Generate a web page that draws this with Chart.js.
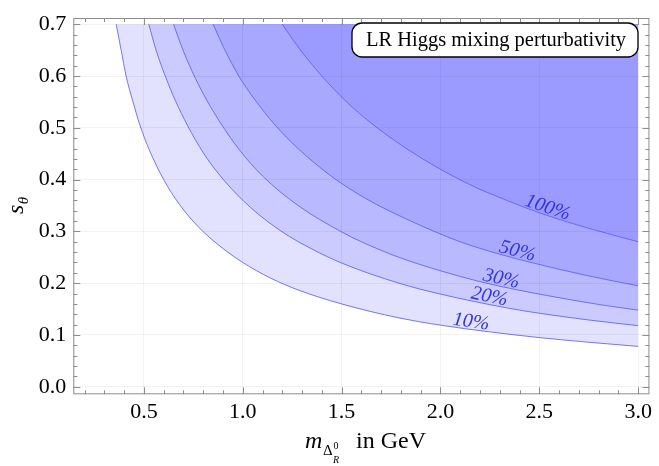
<!DOCTYPE html>
<html>
<head>
<meta charset="utf-8">
<script src="https://cdn.jsdelivr.net/npm/chart.js@4"></script>
<style>
  html, body { margin: 0; padding: 0; background: #fff; }
  #wrap { width: 659px; height: 466px; }
</style>
</head>
<body>
<div id="wrap"><canvas id="chart" width="659" height="466"></canvas></div>
<script>
// contour levels and the curves (m in GeV, s_theta)
const levels = ['10%', '20%', '30%', '50%', '100%'];

const m10 = [0.36, 0.385, 0.41, 0.445, 0.48, 0.53, 0.60, 0.68, 0.78, 0.88, 1.00, 1.14, 1.28, 1.50, 1.79, 2.00, 2.25, 2.50, 2.75, 3.00];
const s10 = [0.700, 0.650, 0.600, 0.550, 0.505, 0.455, 0.400, 0.352, 0.307, 0.273, 0.240, 0.210, 0.187, 0.160, 0.133, 0.119, 0.106, 0.095, 0.086, 0.078];

const m20 = [0.525, 0.56, 0.61, 0.66, 0.72, 0.80, 0.90, 1.04, 1.20, 1.35, 1.50, 1.79, 2.00, 2.34, 2.50, 2.75, 3.00];
const s20 = [0.700, 0.652, 0.598, 0.552, 0.505, 0.452, 0.401, 0.346, 0.299, 0.266, 0.239, 0.200, 0.179, 0.152, 0.142, 0.129, 0.118];

const m30 = [0.65, 0.70, 0.76, 0.82, 0.89, 0.98, 1.10, 1.28, 1.50, 1.60, 1.79, 2.00, 2.20, 2.39, 2.60, 2.80, 3.00];
const s30 = [0.700, 0.648, 0.596, 0.552, 0.508, 0.459, 0.407, 0.350, 0.299, 0.280, 0.250, 0.224, 0.203, 0.187, 0.172, 0.159, 0.148];

const m50 = [0.85, 0.91, 0.98, 1.06, 1.16, 1.28, 1.45, 1.62, 1.85, 2.10, 2.30, 2.48, 2.75, 3.00];
const s50 = [0.700, 0.650, 0.600, 0.555, 0.507, 0.460, 0.406, 0.364, 0.320, 0.280, 0.256, 0.238, 0.214, 0.195];

const m100 = [1.20, 1.28, 1.40, 1.52, 1.65, 1.82, 2.00, 2.19, 2.29, 2.50, 2.75, 3.00];
const s100 = [0.700, 0.656, 0.600, 0.552, 0.509, 0.462, 0.420, 0.383, 0.367, 0.336, 0.306, 0.280];

// where the contour labels sit along each curve (m value)
const labelM = [2.15, 2.24, 2.30, 2.38, 2.53];

const xTicks = [0.5, 1.0, 1.5, 2.0, 2.5, 3.0];
const yTicks = [0.0, 0.1, 0.2, 0.3, 0.4, 0.5, 0.6, 0.7];

const curves = [[m10, s10], [m20, s20], [m30, s30], [m50, s50], [m100, s100]];
const fills = ['#e2e2fe', '#cbcbff', '#b9b9ff', '#a8a8ff', '#9b9bff'];
const lineColor = 'rgba(95,95,245,0.85)';
const serif = "'Liberation Serif', 'DejaVu Serif', serif";

const datasets = curves.map((c, i) => ({
  label: levels[i],
  data: c[0].map((m, j) => ({ x: m, y: c[1][j] })),
  showLine: true,
  pointRadius: 0,
  borderColor: lineColor,
  borderWidth: 1,
  backgroundColor: fills[i],
  fill: { value: 0.7 },
  cubicInterpolationMode: 'monotone',
  order: 10 - i
}));

function curveAt(c, m) {
  const xs = c[0], ys = c[1];
  for (let j = 0; j < xs.length - 1; j++) {
    if (m >= xs[j] && m <= xs[j + 1]) {
      const t = (m - xs[j]) / (xs[j + 1] - xs[j]);
      return ys[j] + t * (ys[j + 1] - ys[j]);
    }
  }
  return ys[ys.length - 1];
}

const decor = {
  id: 'decor',
  afterDraw(chart) {
    const { ctx, chartArea: a, scales: { x, y } } = chart;
    ctx.save();

    // frame with inward ticks on all sides
    ctx.strokeStyle = '#8c8c8c';
    ctx.lineWidth = 1;
    ctx.strokeRect(a.left + 0.5, a.top + 0.5, a.right - a.left - 1, a.bottom - a.top - 1);
    ctx.beginPath();
    for (let k = 2; k <= 30; k++) {
      const px = Math.round(x.getPixelForValue(k / 10)) + 0.5;
      const len = k % 5 === 0 ? 7 : 4;
      ctx.moveTo(px, a.bottom); ctx.lineTo(px, a.bottom - len);
      ctx.moveTo(px, a.top); ctx.lineTo(px, a.top + len);
    }
    for (let k = 0; k <= 35; k++) {
      const py = Math.round(y.getPixelForValue(k / 50)) + 0.5;
      const len = k % 5 === 0 ? 7 : 4;
      ctx.moveTo(a.left, py); ctx.lineTo(a.left + len, py);
      ctx.moveTo(a.right, py); ctx.lineTo(a.right - len, py);
    }
    ctx.stroke();

    // contour labels
    ctx.fillStyle = '#3434e4';
    ctx.font = 'italic 20px ' + serif;
    ctx.textAlign = 'center';
    ctx.textBaseline = 'alphabetic';
    curves.forEach((c, i) => {
      const m = labelM[i];
      const px = x.getPixelForValue(m), py = y.getPixelForValue(curveAt(c, m));
      const p1x = x.getPixelForValue(m - 0.1), p1y = y.getPixelForValue(curveAt(c, m - 0.1));
      const p2x = x.getPixelForValue(m + 0.1), p2y = y.getPixelForValue(curveAt(c, m + 0.1));
      const ang = Math.atan2(p2y - p1y, p2x - p1x);
      ctx.save();
      ctx.translate(px, py);
      ctx.rotate(ang);
      ctx.fillText(levels[i], 0, -2);
      ctx.restore();
    });

    // legend box
    const bx = 352, by = 23, bw = 286, bh = 34, r = 10;
    ctx.beginPath();
    ctx.roundRect(bx, by, bw, bh, r);
    ctx.fillStyle = '#fff';
    ctx.fill();
    ctx.strokeStyle = '#000';
    ctx.lineWidth = 1.3;
    ctx.stroke();
    ctx.fillStyle = '#000';
    ctx.font = '20.5px ' + serif;
    ctx.textAlign = 'center';
    ctx.fillText('LR Higgs mixing perturbativity', bx + bw / 2 + 1, 46);

    // x axis title: m_{Delta_R^0} in GeV
    ctx.textAlign = 'left';
    ctx.font = 'italic 24px ' + serif;
    ctx.fillText('m', 305, 447.5);
    ctx.font = '15px ' + serif;
    ctx.fillText('\u0394', 323, 454.5);
    ctx.font = '10px ' + serif;
    ctx.fillText('0', 333.5, 448.5);
    ctx.font = 'italic 10px ' + serif;
    ctx.fillText('R', 333, 463);
    ctx.font = '24px ' + serif;
    ctx.fillText('in GeV', 356, 447.5);

    // y axis title: s_theta
    ctx.save();
    ctx.translate(23, 214);
    ctx.rotate(-Math.PI / 2);
    ctx.font = 'italic 24px ' + serif;
    ctx.fillText('s', 0, 0);
    const sw = ctx.measureText('s').width;
    ctx.font = 'italic 15px ' + serif;
    ctx.fillText('\u03b8', sw + 0.5, 5);
    ctx.restore();

    ctx.restore();
  }
};

new Chart(document.getElementById('chart').getContext('2d'), {
  type: 'scatter',
  data: { datasets: datasets },
  options: {
    responsive: false,
    animation: false,
    layout: { padding: { top: 12, right: 6, left: 0, bottom: 0 } },
    plugins: {
      legend: { display: false },
      tooltip: { enabled: false },
      filler: { drawTime: 'beforeDatasetsDraw' }
    },
    scales: {
      x: {
        type: 'linear',
        min: 0.143,
        max: 3.057,
        afterBuildTicks: s => { s.ticks = xTicks.map(v => ({ value: v })); },
        afterFit: s => { s.height = 71.7; },
        grid: { color: 'rgba(0,0,0,0.05)', drawTicks: false, z: 1 },
        border: { display: false },
        ticks: {
          color: '#000',
          padding: 7,
          maxRotation: 0,
          font: { family: serif, size: 22, lineHeight: 1 },
          callback: v => v.toFixed(1)
        }
      },
      y: {
        type: 'linear',
        min: -0.0145,
        max: 0.712,
        afterBuildTicks: s => { s.ticks = yTicks.map(v => ({ value: v })); },
        afterFit: s => { s.width = 73.3; },
        grid: { color: 'rgba(0,0,0,0.05)', drawTicks: false, z: 1 },
        border: { display: false },
        ticks: {
          color: '#000',
          padding: 7,
          font: { family: serif, size: 22, lineHeight: 1 },
          callback: v => v.toFixed(1)
        }
      }
    }
  },
  plugins: [decor]
});
</script>
</body>
</html>
